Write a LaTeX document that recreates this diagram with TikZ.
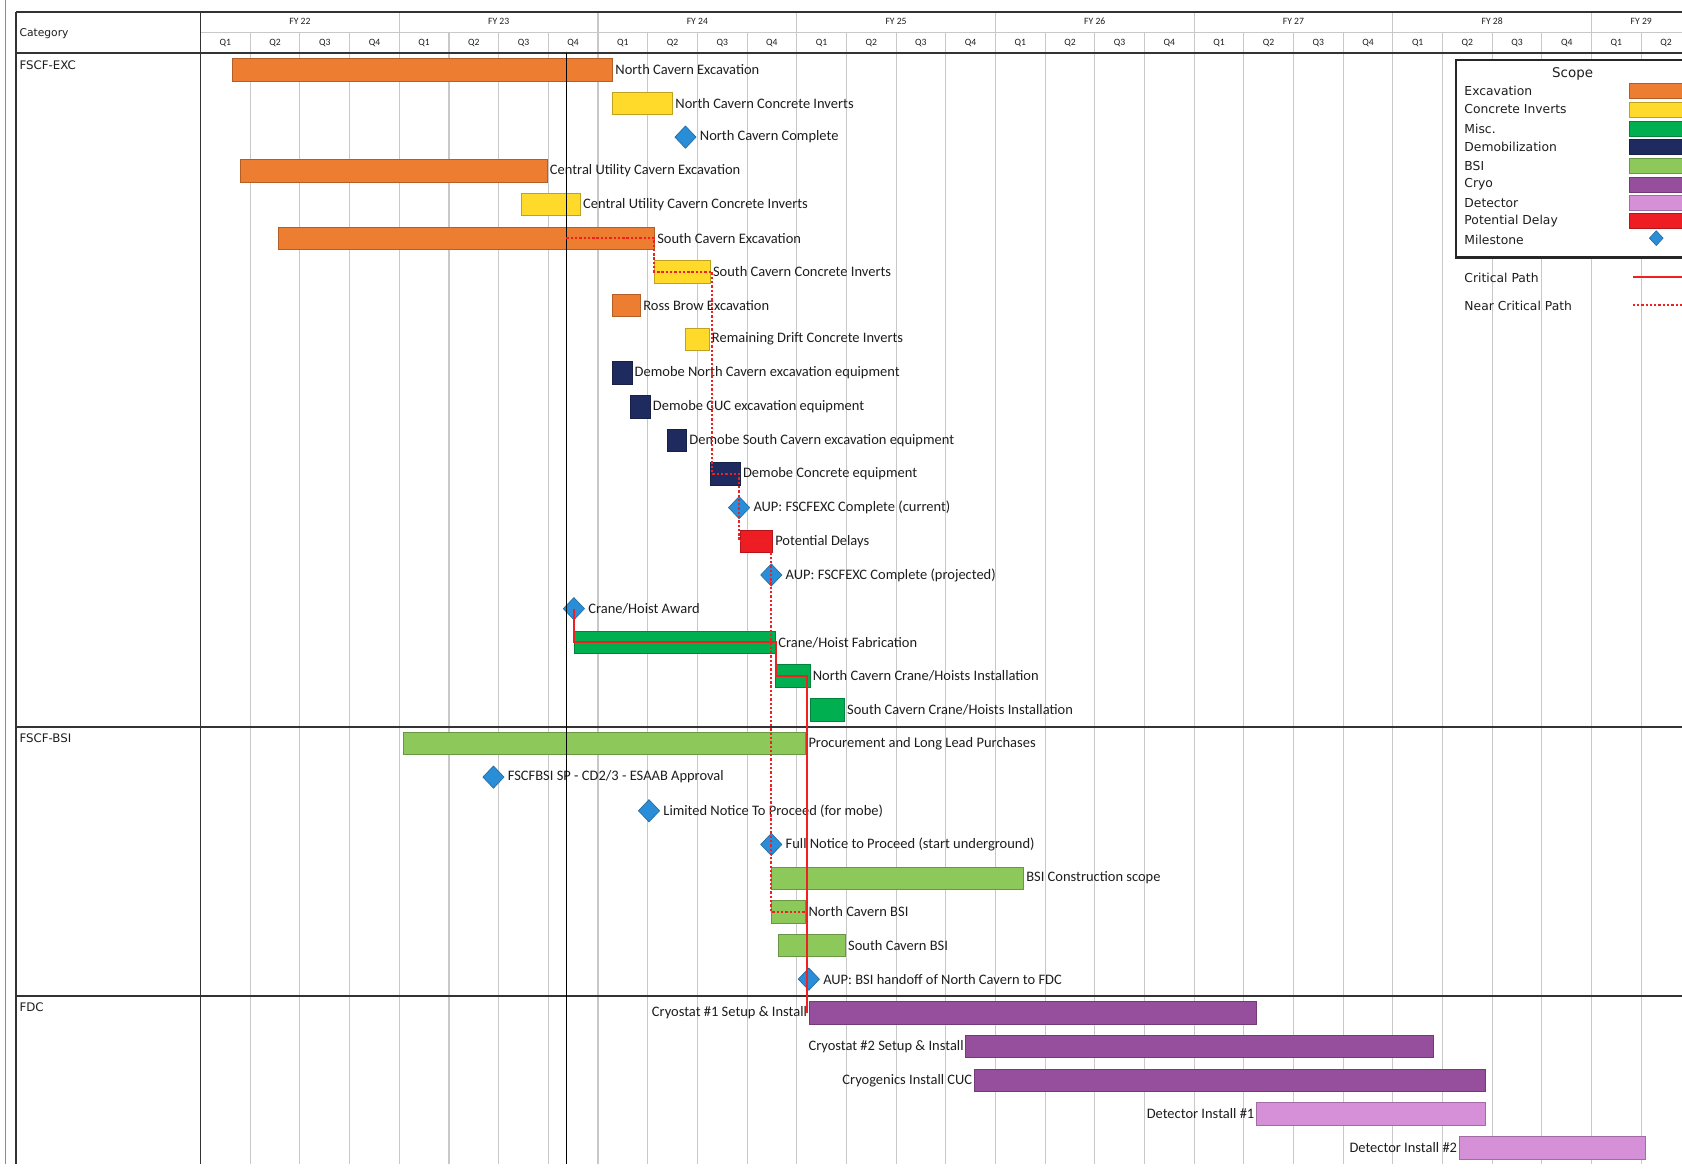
\documentclass[tikz,border=0pt]{standalone}
\usepackage{fontspec}
\setmainfont{Carlito}
\newfontfamily\dvfont{DejaVu Sans}
\usetikzlibrary{shapes.geometric}
\definecolor{cExc}{HTML}{ED7D31}
\definecolor{cCI}{HTML}{FFDA2A}
\definecolor{cMisc}{HTML}{00B050}
\definecolor{cDemob}{HTML}{1F2A5E}
\definecolor{cBSI}{HTML}{8CC85A}
\definecolor{cCryo}{HTML}{954F9D}
\definecolor{cDet}{HTML}{D590D8}
\definecolor{cDelay}{HTML}{EE1D23}
\definecolor{cMS}{HTML}{2A8DD8}
\definecolor{cCrit}{HTML}{F02020}
\definecolor{cGrid}{HTML}{C8C8C8}
\definecolor{cTxt}{HTML}{1E1E1E}
\newcommand\lblfont{\fontsize{13.5}{15}\selectfont}
\newcommand\gbar[6]{\node[gbar=#2, minimum width={#4-#3}] (#1) at (#3,#5) {};
  \node[lbl] (#1-l) at ([xshift=2.5pt]#1.east) {#6};}
\newcommand\gbarL[6]{\node[gbar=#2, minimum width={#4-#3}] (#1) at (#3,#5) {};
  \node[lblL] (#1-l) at ([xshift=-1.5pt]#1.west) {#6};}
\newcommand\gms[4]{\node[ms] (#1) at (#2,#3) {};
  \node[lbl] (#1-l) at ([xshift=3pt]#1.east) {#4};}
\begin{document}
\begin{tikzpicture}[x=1pt,y=-1pt,
  gbar/.style={draw=#1!75!black, fill=#1, line width=0.6pt, minimum height=21pt,
    inner sep=0pt, outer sep=0pt, anchor=west},
  lbl/.style={anchor=west, inner sep=0pt, font=\lblfont, text=cTxt},
  lblL/.style={anchor=east, inner sep=0pt, font=\lblfont, text=cTxt},
  ms/.style={diamond, draw=cMS!70!black, fill=cMS, line width=0.5pt, inner sep=0pt,
    minimum width=20pt, minimum height=21pt},
  grid/.style={draw=cGrid, line width=1pt},
  frame/.style={draw=black!80, line width=1.5pt},
  hq/.style={font=\fontsize{9}{10}\selectfont, text=cTxt, inner sep=0pt},
  sect/.style={anchor=west, font=\dvfont\fontsize{11}{12}\selectfont, text=cTxt, inner sep=0pt},
  lgt/.style={anchor=west, font=\dvfont\fontsize{11.5}{12}\selectfont, text=cTxt, inner sep=0pt},
  crit/.style={draw=cCrit, line width=2pt},
  ncrit/.style={draw=cCrit, line width=1.8pt, dash pattern=on 2.2pt off 1.8pt}]
\useasboundingbox (0,0) rectangle (1568,1093);
\clip (0,0) rectangle (1568,1093);
\fill[white] (0,0) rectangle (1568,1093);
% grid
\foreach \k in {1,...,30} {\draw[grid] (187+46.31*\k,30) -- (187+46.31*\k,1085);}
\foreach \k in {4,8,...,28} {\draw[grid] (187+46.31*\k,11) -- (187+46.31*\k,30);}
\draw[grid] (187,30) -- (1580,30);
\draw[draw=black!45, line width=1pt] (5,0) -- (5,1085);
% header text
\foreach \i/\t in {0/22,1/23,2/24,3/25,4/26,5/27,6/28} {\node[hq] (fy\t) at (187+185.24*\i+92.6,20) {FY \t};}
\node[hq] (fy29) at (1530,20) {FY 29};
\foreach \k in {0,...,29} {\pgfmathtruncatemacro\qq{mod(\k,4)+1}\node[hq] (q\k) at (187+46.31*\k+23.15,40) {Q\qq};}
\node[sect, font=\dvfont\fontsize{10}{11}\selectfont] (cat) at (18,31) {Category};
\node[sect] (s1) at (18,61) {FSCF-EXC};
\node[sect] (s2) at (18,688) {FSCF-BSI};
\node[sect] (s3) at (18,939) {FDC};
% FSCF-EXC
\gbar{b0}{cExc}{217}{571}{65}{North Cavern Excavation}
\gbar{b1}{cCI}{571}{627}{96.4}{North Cavern Concrete Inverts}
\gms{m2}{639}{127.8}{North Cavern Complete}
\gbar{b3}{cExc}{224}{510}{159.2}{Central Utility Cavern Excavation}
\gbar{b4}{cCI}{486}{541}{190.6}{Central Utility Cavern Concrete Inverts}
\gbar{b5}{cExc}{259}{610}{222}{South Cavern Excavation}
\gbar{b6}{cCI}{610}{662}{253.4}{South Cavern Concrete Inverts}
\gbar{b7}{cExc}{571}{597}{284.8}{Ross Brow Excavation}
\gbar{b8}{cCI}{639}{661}{316.2}{Remaining Drift Concrete Inverts}
\gbar{b9}{cDemob}{571}{589}{347.6}{Demobe North Cavern excavation equipment}
\gbar{b10}{cDemob}{588}{606}{379}{Demobe CUC excavation equipment}
\gbar{b11}{cDemob}{622}{640}{410.4}{Demobe South Cavern excavation equipment}
\gbar{b12}{cDemob}{662}{690}{441.8}{Demobe Concrete equipment}
\gms{m13}{689}{473.2}{AUP: FSCFEXC Complete (current)}
\gbar{b14}{cDelay}{690}{720}{504.6}{Potential Delays}
\gms{m15}{719}{536}{AUP: FSCFEXC Complete (projected)}
\gms{m16}{535}{567.4}{Crane/Hoist Award}
\gbar{b17}{cMisc}{535}{723}{598.8}{Crane/Hoist Fabrication}
\gbar{b18}{cMisc}{723}{755}{630.2}{North Cavern Crane/Hoists Installation}
\gbar{b19}{cMisc}{755}{787}{661.6}{South Cavern Crane/Hoists Installation}
% FSCF-BSI
\gbar{b20}{cBSI}{376}{751}{693}{Procurement and Long Lead Purchases}
\gms{m21}{460}{724.4}{FSCFBSI SP - CD2/3 - ESAAB Approval}
\gms{m22}{605}{755.8}{Limited Notice To Proceed (for mobe)}
\gms{m23}{719}{787.2}{Full Notice to Proceed (start underground)}
\gbar{b24}{cBSI}{719}{954}{818.6}{BSI Construction scope}
\gbar{b25}{cBSI}{719}{751}{850}{North Cavern BSI}
\gbar{b26}{cBSI}{726}{788}{881.4}{South Cavern BSI}
\gms{m27}{754}{912.8}{AUP: BSI handoff of North Cavern to FDC}
% FDC
\gbarL{b28}{cCryo}{754}{1171}{944.2}{Cryostat \#1 Setup \& Install}
\gbarL{b29}{cCryo}{900}{1336}{975.6}{Cryostat \#2 Setup \& Install}
\gbarL{b30}{cCryo}{908}{1385}{1007}{Cryogenics Install CUC}
\gbarL{b31}{cDet}{1171}{1385}{1038.4}{Detector Install \#1}
\gbarL{b32}{cDet}{1360}{1534}{1069.8}{Detector Install \#2}
% frame lines
\draw[frame] (15,11) -- (1580,11);
\draw[frame, line width=1.8pt] (15,49) -- (1580,49);
\draw[frame] (15,677.7) -- (1580,677.7);
\draw[frame] (15,928.5) -- (1580,928.5);
\draw[frame, line width=1.3pt] (15,11) -- (15,1085);
\draw[frame] (187,11) -- (187,1085);
\draw[black, line width=1.1pt] (528,49) -- (528,1085);
% near critical path
\coordinate (ncs) at (528,222);
\draw[ncrit] (ncs) -- (b5.east) -- (b5.east |- b6.center) -- ([xshift=2pt]b6.east)
  -- ([xshift=2pt]b6.east |- b12.center) -- ([xshift=-1pt]b12.east)
  -- ([xshift=-1pt]b12.east |- b14.center) -- ([xshift=-1pt]b14.east)
  -- ([xshift=-1pt]b14.east |- b25.center) -- (b25.east);
% critical path
\draw[crit] (m16.center) -- (m16.center |- b17.center) -- (b17.east)
  -- (b17.east |- b18.center) -- ([xshift=-3pt]b18.east)
  -- ([xshift=-3pt]b18.east |- b28.west);
% legend
\node[draw=black!85, line width=2pt, fill=white, anchor=north west, minimum width=240pt,
  minimum height=184pt, inner sep=0pt] (legend) at (1356,55) {};
\node[font=\dvfont\fontsize{12.5}{13}\selectfont, text=cTxt, inner sep=0pt] (lgtitle) at (1466,69) {Scope};
\foreach \n/\t/\c/\y in {1/Excavation/cExc/85, 2/Concrete Inverts/cCI/102, 3/Misc./cMisc/120,
  4/Demobilization/cDemob/137, 5/BSI/cBSI/155, 6/Cryo/cCryo/172, 7/Detector/cDet/189,
  8/Potential Delay/cDelay/206}
  {\node[lgt] (lg\n) at (1365,\y) {\t};
   \node[gbar=\c, minimum width=60pt, minimum height=14pt] (sw\n) at (1519,\y) {};}
\node[lgt] (lg9) at (1365,224) {Milestone};
\node[ms, minimum width=13pt, minimum height=14pt] (sw9) at (1544,222) {};
\node[lgt] (lg10) at (1365,259) {Critical Path};
\node[lgt] (lg11) at (1365,285) {Near Critical Path};
\coordinate (cpa) at (1522,258);
\coordinate (cpb) at (1580,258);
\coordinate (ncpa) at (1522,284);
\coordinate (ncpb) at (1580,284);
\draw[crit] (cpa) -- (cpb);
\draw[ncrit] (ncpa) -- (ncpb);
\end{tikzpicture}
\end{document}
